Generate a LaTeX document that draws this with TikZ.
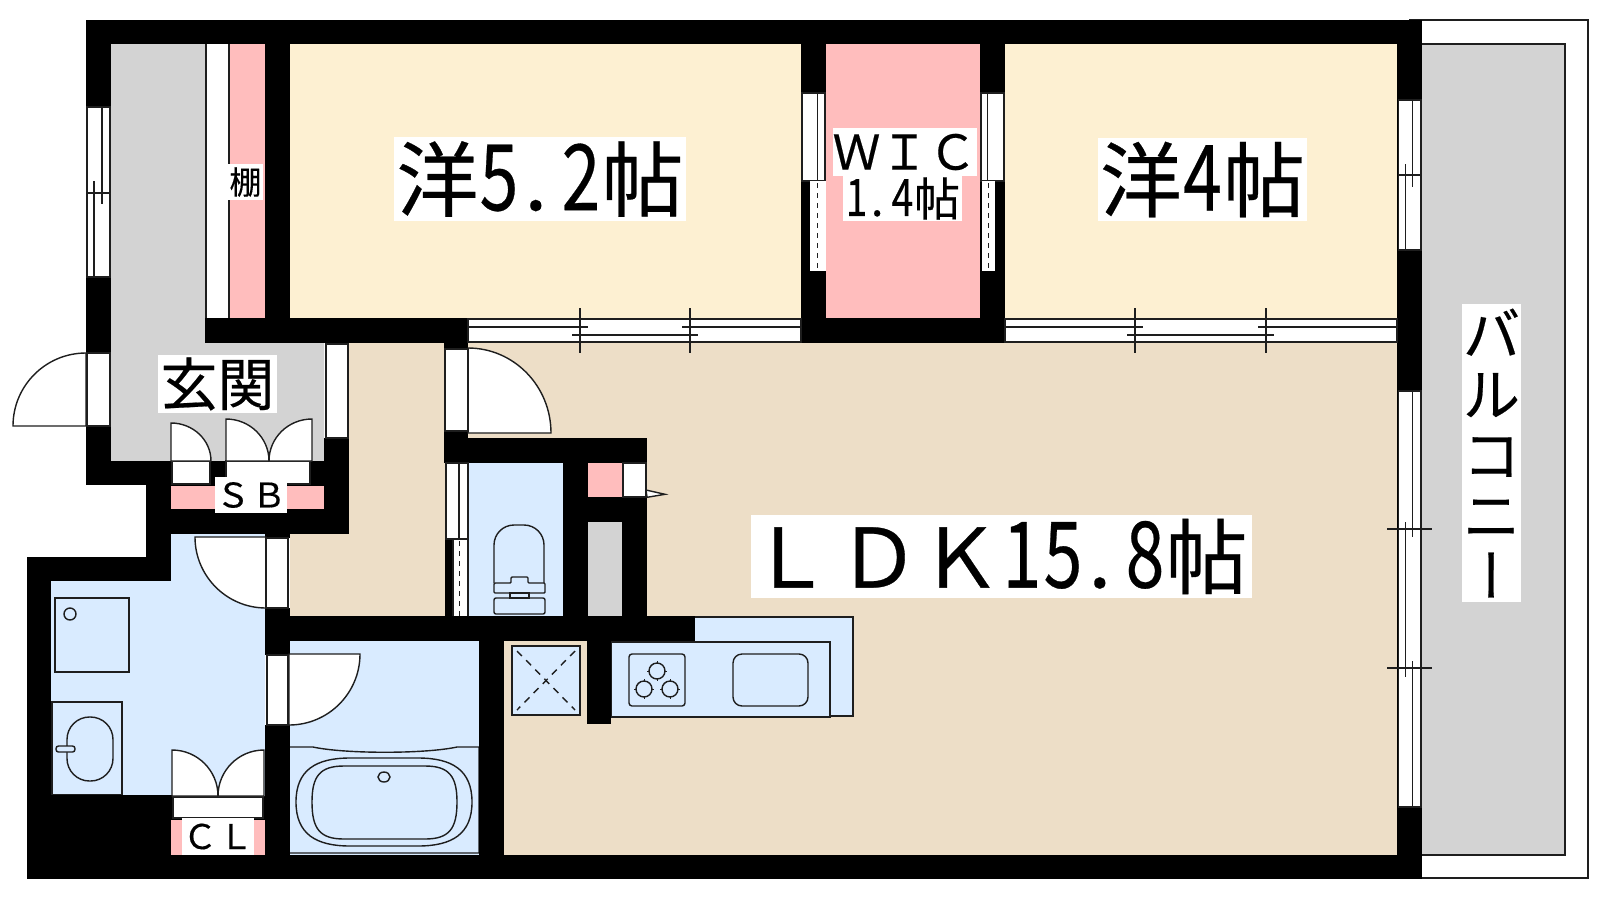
\documentclass[tikz,border=0pt]{standalone}
\usepackage{fontspec}
\usetikzlibrary{calc}
\setmainfont[FakeBold=0.35]{Noto Sans CJK JP}
\newfontfamily\vertjp[RawFeature=+vert,FakeBold=0.35]{Noto Sans CJK JP}
\definecolor{roomcream}{HTML}{FDF0D2}
\definecolor{roombeige}{HTML}{EDDEC7}
\definecolor{roompink}{HTML}{FFBDBD}
\definecolor{roomblue}{HTML}{D9EBFF}
\definecolor{roomgrey}{HTML}{D3D3D3}
\definecolor{inkline}{HTML}{1E1E1E}
\newcommand\fz[1]{\fontsize{#1}{#1}\selectfont}
\newcommand\hw[1]{\makebox[.5em]{\scalebox{.85}[1.12]{#1}}}
\newcommand\hwdot{\makebox[.5em][l]{\kern.06em .}}
\newcommand\wl[4]{\fill[black] (#1,#2) rectangle (#3,#4);}
\newcommand\swing[4]{\filldraw[fp] (#1) -- (#2) .. controls ($(#2)!.5523!(#3)$) and ($(#4)!.5523!(#3)$) .. (#4) -- cycle;}
\newcommand\hln[3]{\draw[fp] (#1,#3) -- (#2,#3);}
\newcommand\vln[3]{\draw[fp] (#1,#2) -- (#1,#3);}
\newcommand\pane[4]{\filldraw[fp] (#1,#2) rectangle (#3,#4);}
\tikzset{
  fp/.style={draw=inkline,fill=white,line width=1.4pt},
  fixture/.style={draw=inkline,line width=1.4pt},
  tag/.style={fill=white,inner sep=0pt,text=black,anchor=center},
}
\begin{document}
\begin{tikzpicture}[x=1pt,y=-1pt]
\useasboundingbox (0,0) rectangle (1600,900);
\fill[white] (0,0) rectangle (1600,900);
% balcony
\draw[fp] (1410,20) rectangle (1588,878);
\filldraw[fill=roomgrey,draw=inkline,line width=1.4pt] (1410,44) rectangle (1565,855);
% rooms
\fill[roomgrey] (111,44) -- (205,44) -- (205,343) -- (324,343) -- (324,461) -- (111,461) -- cycle;
\fill[roompink] (229,44) rectangle (265,318);
\fill[white] (205,44) rectangle (229,318);
\draw[fp] (206,44) -- (206,318) (229,44) -- (229,164) (229,200) -- (229,318);
\fill[roomcream] (290,44) rectangle (801,318);
\fill[roompink] (826,44) rectangle (980,318);
\fill[roomcream] (1005,44) rectangle (1397,318);
\fill[roombeige] (349,343) -- (1397,343) -- (1397,855) -- (504,855) -- (504,641) -- (290,641) -- (290,534) -- (349,534) -- cycle;
\fill[roomblue] (171,534) -- (265,534) -- (265,795) -- (51,795) -- (51,581) -- (171,581) -- cycle;
\fill[roomblue] (290,641) rectangle (479,855);
\fill[roomblue] (468,463) rectangle (563,616);
\fill[roompink] (588,463) rectangle (622,497);
\fill[roomgrey] (588,522) rectangle (622,616);
% laundry pan and washbasin
\draw[fixture] (55,598) rectangle (129,672);
\draw[fixture] (70,614) circle[radius=6];
\draw[fixture] (52,702) rectangle (122,795);
\draw[fixture,rounded corners=22.5pt] (67,717) rectangle (113,781);
\filldraw[fixture,fill=roomblue,rounded corners=2.5pt] (56,746) rectangle (75,752);
% bath
\draw[fixture] (290,747) -- (313,747) .. controls (345,754) and (425,754) .. (457,747) -- (479,747) -- (479,853) -- (290,853);
\draw[fixture] (296,802) .. controls (296,770) and (316,758) .. (350,758) -- (418,758) .. controls (452,758) and (472,770) .. (472,802) .. controls (472,834) and (452,846) .. (418,846) -- (350,846) .. controls (316,846) and (296,834) .. (296,802) -- cycle;
\draw[fixture] (312,802) .. controls (312,776) and (320,766) .. (344,766) -- (425,766) .. controls (449,766) and (457,776) .. (457,802) .. controls (457,829) and (449,839) .. (425,839) -- (344,839) .. controls (320,839) and (312,829) .. (312,802) -- cycle;
\draw[fixture] (384,777) ellipse[x radius=6,y radius=5];
% toilet
\draw[fixture,rounded corners=20pt] (494,583) -- (494,525) -- (544,525) -- (544,583);
\draw[fixture,rounded corners=1pt] (494,583) -- (511,583) -- (511,577) -- (528,577) -- (528,583) -- (545,583) -- (545,593) -- (494,593) -- cycle;
\draw[fixture] (510,593) rectangle (529,598);
\draw[fixture,rounded corners=2pt] (494,598) rectangle (545,614);
% fridge
\filldraw[fixture,fill=roomblue] (512,646) rectangle (580,715);
\draw[fixture,dash pattern=on 7pt off 6pt] (517,651) -- (575,710) (575,651) -- (517,710);
% kitchen
\filldraw[fixture,fill=roomblue] (611,617) rectangle (853,716);
\filldraw[fixture,fill=roomblue,line width=1.6pt] (611,642) rectangle (830,717);
\draw[fixture,rounded corners=3pt] (629,654) rectangle (685,706);
\foreach \cx/\cy in {657/671,644/689,670/689}{
  \draw[fixture] (\cx,\cy) circle[radius=8];
  \draw[inkline,line width=.9pt] (\cx,\cy-10) -- (\cx,\cy-7) (\cx,\cy+7) -- (\cx,\cy+10) (\cx-10,\cy) -- (\cx-7,\cy) (\cx+7,\cy) -- (\cx+10,\cy);
}
\draw[fixture,rounded corners=9pt] (733,654) rectangle (808,706);
% walls
\wl{86}{20}{1422}{44}
\wl{86}{20}{111}{485}
\wl{86}{461}{172}{485}
\wl{146}{461}{171}{581}
\wl{171}{461}{324}{486}
\wl{146}{509}{349}{534}
\wl{310}{461}{349}{486}
\wl{324}{438}{349}{534}
\wl{27}{557}{171}{581}
\wl{27}{557}{51}{879}
\wl{27}{795}{172}{879}
\wl{27}{855}{1422}{879}
\wl{265}{44}{290}{343}
\wl{205}{318}{468}{343}
\wl{444}{343}{468}{349}
\wl{444}{431}{468}{463}
\wl{444}{438}{647}{463}
\wl{801}{44}{826}{343}
\wl{980}{44}{1005}{343}
\wl{801}{318}{1005}{343}
\wl{1397}{20}{1422}{879}
\wl{265}{534}{290}{538}
\wl{265}{608}{290}{655}
\wl{265}{725}{290}{879}
\wl{265}{616}{695}{641}
\wl{445}{539}{453}{616}
\wl{563}{463}{588}{641}
\wl{588}{497}{647}{522}
\wl{622}{522}{647}{616}
\wl{479}{641}{504}{855}
\wl{587}{641}{611}{724}
\wl{171}{796}{265}{820}
% left window
\pane{87}{107}{110}{277}
\vln{94}{181}{277}
\vln{102}{107}{204}
\hln{87}{110}{193}
% entrance door
\swing{86,426}{86,353}{13,353}{13,426}
\pane{87}{353}{110}{426}
% hall side opening
\pane{326}{344}{348}{438}
% shoe box
\fill[roompink] (171,486) rectangle (324,509);
\pane{172}{461}{210}{484}
\pane{226}{461}{310}{484}
\swing{171,461}{171,423}{211,423}{211,461}
\swing{226,461}{226,419}{269,419}{269,461}
\swing{312,461}{312,419}{269,419}{269,461}
% washroom door
\swing{266,537}{195,537}{195,608}{266,608}
\pane{266}{538}{288}{608}
% bath door
\swing{289,654}{360,654}{360,725}{289,725}
\pane{267}{655}{288}{725}
% closet
\fill[roompink] (171,820) rectangle (265,855);
\pane{173}{797}{263}{818}
\swing{172,796}{172,750}{218,750}{218,796}
\swing{264,796}{264,750}{218,750}{218,796}
% LDK door
\swing{468,433}{468,348}{551,348}{551,433}
\pane{445}{349}{468}{431}
% toilet door
\pane{446}{463}{468}{539}
\vln{459}{463}{539}
\fill[white] (453,539) rectangle (468,616);
\draw[fp] (453,539) -- (453,616) (468,539) -- (468,616) (446,539) -- (468,539);
\draw[inkline,line width=1.3pt,dash pattern=on 5pt off 5pt] (459.5,541) -- (459.5,616);
% small door by kitchen
\pane{623}{463}{646}{497}
\filldraw[fp] (646,490) -- (665,494.3) -- (647,497.3) -- cycle;
% WIC doors
\pane{802}{93}{825}{181}
\vln{817.5}{93}{181}
\fill[white] (810,181) rectangle (826,271);
\draw[inkline,line width=1.3pt,dash pattern=on 5pt off 5pt] (817.5,183) -- (817.5,271);
\pane{981}{93}{1004}{181}
\vln{987.5}{93}{181}
\fill[white] (982,181) rectangle (995,271);
\draw[inkline,line width=1.3pt,dash pattern=on 5pt off 5pt] (988.5,183) -- (988.5,271);
% south windows of the two bedrooms
\foreach \xa/\xb/\pa/\pb in {468/801/580/690,1005/1397/1135/1266}{
  \pane{\xa}{319}{\xb}{342}
  \draw[fp] (\xa,327) -- (\pa+8,327) (\pb-8,327) -- (\xb,327) (\pa-8,335) -- (\pb+8,335);
  \draw[fp] (\pa,308) -- (\pa,353) (\pb,308) -- (\pb,353);
}
% east windows
\pane{1398.5}{100}{1421}{250}
\draw[fp] (1405.5,164) -- (1405.5,250);
\draw[fp] (1412.5,100) -- (1412.5,187);
\draw[fp] (1398,175) -- (1422,175);
\pane{1398.5}{391}{1421}{807}
\draw[fp] (1412.5,391) -- (1412.5,537);
\draw[fp] (1405.5,522) -- (1405.5,677);
\draw[fp] (1412.5,661) -- (1412.5,807);
\draw[fp] (1387,529) -- (1432,529);
\draw[fp] (1387,668) -- (1432,668);
% labels
\node[tag,minimum width=292pt,minimum height=84pt,font=\fz{82}] (room52) at (540,179) {洋\hw{5}\hwdot\hw{2}帖};
\node[tag,minimum width=209pt,minimum height=83pt,font=\fz{82}] (room4) at (1202.5,179.5) {洋\hw{4}帖};
\node[tag,minimum width=143pt,minimum height=48pt,font=\fz{48}] (wic) at (904.5,152) {ＷＩＣ};
\node[tag,minimum width=119pt,minimum height=45pt,font=\fz{46}] (wicsize) at (902.5,198.5) {\hw{1}\hwdot\hw{4}帖};
\node[tag,minimum width=35pt,minimum height=36pt,font=\fz{32}] (shelf) at (245.5,182) {棚};
\node[tag,minimum width=119pt,minimum height=58pt,font=\fz{57}] (genkan) at (217.5,384) {玄関};
\node[tag,minimum width=72pt,minimum height=36pt,font=\fz{34}] (sb) at (251,495) {\makebox[36pt]{Ｓ}\makebox[36pt]{Ｂ}};
\node[tag,minimum width=72pt,minimum height=37pt,font=\fz{34}] (cl) at (218,836.5) {\makebox[36pt]{Ｃ}\makebox[36pt]{Ｌ}};
\node[tag,minimum width=501pt,minimum height=83pt,font=\fz{82}] (ldk) at (1001.5,556.5) {\kern-6pt Ｌ\kern6pt ＤＫ\hw{1}\hw{5}\hwdot\hw{8}帖};
\node[tag,minimum width=59pt,minimum height=298pt,text width=59pt,align=center,font={\fontsize{57}{60.5}\selectfont}] (balcony) at (1491.5,453) {バ\\ル\\コ\\ニ\\{\vertjp ー}};
\end{tikzpicture}
\end{document}
